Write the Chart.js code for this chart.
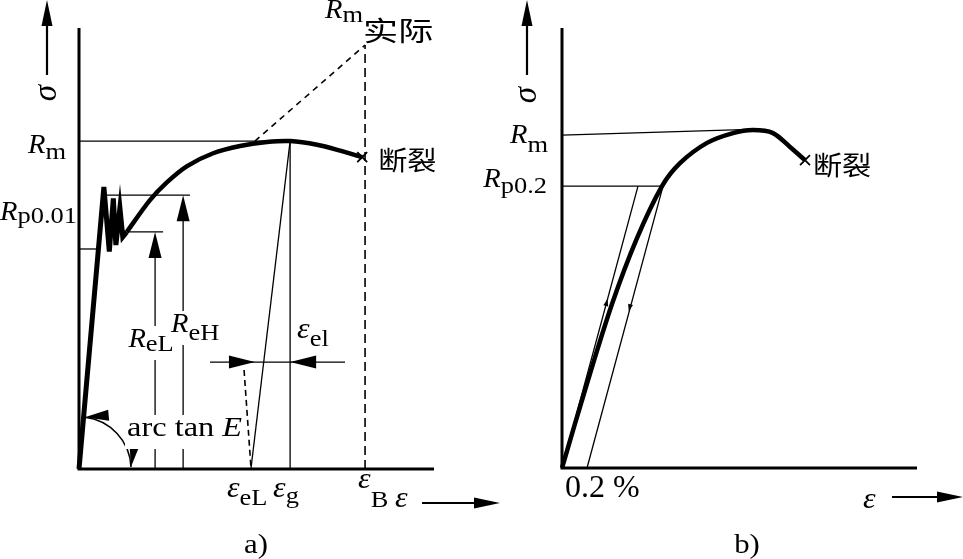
<!DOCTYPE html>
<html lang="zh-CN">
<head>
<meta charset="UTF-8">
<title>拉伸曲线示意图</title>
<script src="https://cdn.jsdelivr.net/npm/chart.js"></script>
<style>
  body { margin: 0; background: #fff; }
  #wrap { position: relative; width: 963px; height: 559px; }
  #wrap canvas { position: absolute; left: 0; top: 0; }
</style>
</head>
<body>
<div id="wrap">
  <canvas id="chartA" width="963" height="559"></canvas>
  <canvas id="chartB" width="963" height="559"></canvas>
</div>
<script>
// ---- a) 有屈服现象 (示意单位: Rm = 100, εB = 100) ----
const epsYieldA = [0, 8.7, 10.6, 12.0, 12.9, 14.3, 15.3, 16.7];
const sigYieldA = [0, 86.0, 66.3, 82.5, 68.3, 79.6, 70.8, 72.3];
const epsHardA  = [16.7, 24.8, 30.8, 37.8, 46.9, 56.3, 65.7, 73.8, 83.2, 91.3, 99.0];
const sigHardA  = [72.3, 82.0, 87.5, 92.4, 96.3, 98.5, 99.7, 100, 98.9, 97.1, 95.1];
const RmA = 100, ReH = 83.5, ReL = 72.3, Rp001 = 67.1, RmReal = 129.3;
const epsReHArrow = 36.4, epsReLArrow = 26.6;
const epsEL = 60.1, epsG = 73.8, epsB = 100;
const elLevel = 32.6;
const breakA = [99.0, 95.1];

// ---- b) 无明显屈服 (ε 单位 %, Rm = 100) ----
const epsCurveB = [0, 0.2, 0.4, 0.6, 0.8, 0.944, 1.16, 1.368, 1.528, 1.688, 1.824, 1.944];
const sigCurveB = [0, 25, 48.5, 68, 83.4, 90.2, 96.2, 99.1, 100, 99.1, 95.0, 91.1];
const offsetB = 0.2, Rp02 = 83.4, epsElastB = 0.608;
const RmLineB = [98.5, 100.3], RmLineEndB = 1.57;
const breakB = [1.944, 91.1];

const xMaxA = 124.1, yMaxA = 134.5;
const xMaxB = 2.84, yMaxB = 130.2;

const SERIF = '"Liberation Serif", "DejaVu Serif", serif';
const CJK = '"Noto Sans CJK SC", "Noto Sans CJK JP", sans-serif';

function pts(xs, ys) { return xs.map((v, i) => ({ x: v, y: ys[i] })); }
function seg(x1, y1, x2, y2, extra) {
  return Object.assign({ data: [{ x: x1, y: y1 }, { x: x2, y: y2 }], borderWidth: 1.3 }, extra || {});
}

function head(ctx, x, y, ang, len, half) {
  ctx.save();
  ctx.translate(x, y);
  ctx.rotate(ang);
  ctx.beginPath();
  ctx.moveTo(0, 0);
  ctx.lineTo(-len, -half);
  ctx.lineTo(-len, half);
  ctx.closePath();
  ctx.fill();
  ctx.restore();
}

function fontOf(p) {
  return (p.it ? 'italic ' : '') + p.size + 'px ' + (p.cjk ? CJK : SERIF);
}

function drawParts(ctx, x, y, parts, align, sx, bg) {
  const widths = parts.map(p => { ctx.font = fontOf(p); return ctx.measureText(p.t).width * (p.sx || sx); });
  const total = widths.reduce((a, b) => a + b, 0);
  let cx = align === 'right' ? x - total : align === 'center' ? x - total / 2 : x;
  if (bg) {
    ctx.fillStyle = '#fff';
    ctx.fillRect(cx - 2, y - 21, total + 4, 34);
  }
  ctx.fillStyle = '#000';
  ctx.textAlign = 'left';
  ctx.textBaseline = 'alphabetic';
  parts.forEach((p, i) => {
    ctx.save();
    ctx.font = fontOf(p);
    ctx.translate(cx, y + (p.dy || 0));
    ctx.scale(p.sx || sx, 1);
    ctx.fillText(p.t, 0, 0);
    ctx.restore();
    cx += widths[i];
  });
}

const sketchPlugin = {
  id: 'sketch',
  beforeDatasetsDraw(chart, args, o) {
    const { ctx, chartArea: ca } = chart;
    ctx.save();
    ctx.strokeStyle = '#000';
    ctx.lineWidth = 3;
    ctx.beginPath();
    ctx.moveTo(ca.left, ca.top);
    ctx.lineTo(ca.left, ca.bottom);
    ctx.lineTo(ca.right, ca.bottom);
    ctx.stroke();
    ctx.restore();
  },
  afterDatasetsDraw(chart, args, o) {
    const { ctx, chartArea: ca, scales: { x, y } } = chart;
    const P = (a) => [x.getPixelForValue(a[0]), y.getPixelForValue(a[1])];
    ctx.save();
    ctx.fillStyle = '#000';
    ctx.strokeStyle = '#000';

    // σ 轴箭头
    const sx0 = ca.left + o.sigma.dx;
    ctx.lineWidth = 2.2;
    ctx.beginPath();
    ctx.moveTo(sx0, ca.top + o.sigma.y0);
    ctx.lineTo(sx0, ca.top + o.sigma.y1 + 20);
    ctx.stroke();
    head(ctx, sx0, ca.top + o.sigma.y1, -Math.PI / 2, 26, 5.5);
    ctx.save();
    ctx.translate(sx0, ca.top + o.sigma.labelY);
    ctx.rotate(-Math.PI / 2);
    ctx.font = 'italic 33px ' + SERIF;
    ctx.textAlign = 'center';
    ctx.textBaseline = 'middle';
    ctx.fillText('σ', 0, 0);
    ctx.restore();

    // ε 轴箭头
    const ey = ca.bottom + o.eps.dy;
    ctx.beginPath();
    ctx.moveTo(ca.right + o.eps.x0, ey);
    ctx.lineTo(ca.right + o.eps.x1 - 20, ey);
    ctx.stroke();
    head(ctx, ca.right + o.eps.x1, ey, 0, 26, 5.5);

    // 数据箭头
    (o.heads || []).forEach(h => {
      const p = P(h.at);
      head(ctx, p[0], p[1], h.ang, h.len || 26, h.half || 6.5);
    });

    // arc tan E
    if (o.arc) {
      const c = P(o.arc.at);
      ctx.lineWidth = 1.5;
      ctx.beginPath();
      ctx.arc(c[0], c[1], o.arc.r, o.arc.a0, o.arc.a1);
      ctx.stroke();
      const t0 = [c[0] + o.arc.r * Math.cos(o.arc.a0), c[1] + o.arc.r * Math.sin(o.arc.a0)];
      const t1 = [c[0] + o.arc.r * Math.cos(o.arc.a1), c[1] + o.arc.r * Math.sin(o.arc.a1)];
      head(ctx, t0[0], t0[1], o.arc.a0 - Math.PI / 2 - 0.2, 24, 5.5);
      head(ctx, t1[0], t1[1], o.arc.a1 + Math.PI / 2 + 0.2, 24, 5.5);
    }

    // 文字
    (o.labels || []).forEach(l => {
      const p = P(l.at);
      drawParts(ctx, p[0] + l.dx, p[1] + l.dy, l.parts, l.align || 'left', l.sx || 1.1, l.bg);
    });
    ctx.restore();
  }
};
Chart.register(sketchPlugin);

function options(pad, xMax, yMax, sketch) {
  return {
    responsive: false,
    animation: false,
    events: [],
    layout: { padding: pad },
    scales: {
      x: { type: 'linear', min: 0, max: xMax, display: false },
      y: { type: 'linear', min: 0, max: yMax, display: false }
    },
    plugins: { legend: { display: false }, tooltip: { enabled: false }, sketch: sketch },
    elements: {
      point: { radius: 0 },
      line: { borderColor: '#000', borderWidth: 1.3, fill: false }
    },
    datasets: { scatter: { showLine: true, borderColor: '#000', clip: false } }
  };
}

const R = (sub, dy) => [{ t: 'R', it: true, size: 28, sx: 1.02 }, { t: sub, size: 23, dy: dy, sx: 1.15 }];
const E = (sub, dy) => [{ t: 'ε', it: true, size: 29, sx: 1.1 }, { t: sub, size: 23, dy: dy, sx: 1.15 }];

// ---------- 图 a ----------
new Chart(document.getElementById('chartA'), {
  type: 'scatter',
  data: {
    datasets: [
      { data: pts(epsYieldA, sigYieldA), borderWidth: 5, borderJoinStyle: 'miter' },
      { data: pts(epsHardA, sigHardA), borderWidth: 4.5, tension: 0.3 },
      seg(0, RmA, epsG, RmA),
      seg(9.1, ReH, 38.8, ReH),
      seg(16.7, ReL, 29.4, ReL),
      seg(0, Rp001, 6.8, Rp001),
      seg(epsReHArrow, 0, epsReHArrow, ReH - 4),
      seg(epsReLArrow, 0, epsReLArrow, ReL - 4),
      seg(epsG, RmA, epsEL, 0),
      seg(epsG, 0, epsG, RmA),
      seg(epsB, 0, epsB, RmReal, { borderDash: [9, 5], borderWidth: 1.6 }),
      seg(61.5, RmA, epsB, RmReal, { borderDash: [6, 5], borderWidth: 1.6 }),
      seg(57.7, 30.2, epsEL, 0.6, { borderDash: [6, 4], borderWidth: 1.6 }),
      seg(45.8, elLevel, 93, elLevel),
      { data: [{ x: breakA[0], y: breakA[1] }], showLine: false, pointStyle: 'crossRot',
        pointRadius: 7, pointBorderWidth: 1.8, pointBorderColor: '#000' }
    ]
  },
  options: options({ left: 79, top: 28, right: 529, bottom: 90 }, xMaxA, yMaxA, {
    sigma: { dx: -32, y0: 47, y1: -28, labelY: 65 },
    eps: { x0: -12, x1: 66, dy: 34 },
    heads: [
      { at: [epsReHArrow, ReH], ang: -Math.PI / 2 },
      { at: [epsReLArrow, ReL], ang: -Math.PI / 2 },
      { at: [61.5, elLevel], ang: 0 },
      { at: [epsG, elLevel], ang: Math.PI }
    ],
    arc: { at: [0, 0], r: 52, a0: -1.46, a1: -0.04 },
    labels: [
      { at: [0, RmA], dx: -13, dy: 12, align: 'right', parts: R('m', 6) },
      { at: [0, Rp001], dx: -2, dy: -29, align: 'right', parts: R('p0.01', 3) },
      { at: [epsReLArrow, 0], dx: -4, dy: -122, align: 'center', bg: true, parts: R('eL', 4) },
      { at: [epsReHArrow, 0], dx: 12, dy: -137, align: 'center', bg: true, parts: R('eH', 8) },
      { at: [0, 0], dx: 48, dy: -33, bg: true, sx: 1.2,
        parts: [{ t: 'arc tan ', size: 27 }, { t: 'E', it: true, size: 27 }] },
      { at: [epsG, elLevel], dx: 7, dy: -24, parts: E('el', 8) },
      { at: [epsEL, 0], dx: -24, dy: 28, parts: E('eL', 8) },
      { at: [epsG, 0], dx: -17, dy: 28, parts: E('g', 6) },
      { at: [epsB, 0], dx: -7, dy: 19, parts: E('B', 19) },
      { at: [xMaxA, 0], dx: -39, dy: 38, parts: [{ t: 'ε', it: true, size: 29 }] },
      { at: [epsB, RmReal], dx: -40, dy: -27,
        parts: R('m', 4).concat([{ t: '实际', cjk: true, size: 27, dy: 23, sx: 1.3 }]) },
      { at: breakA, dx: 16, dy: 13, parts: [{ t: '断裂', cjk: true, size: 26, sx: 1.12 }] },
      { at: [0, 0], dx: 177, dy: 84, align: 'center', parts: [{ t: 'a)', size: 28 }] }
    ]
  })
});

// ---------- 图 b ----------
new Chart(document.getElementById('chartB'), {
  type: 'scatter',
  data: {
    datasets: [
      { data: pts(epsCurveB, sigCurveB), borderWidth: 4.5, tension: 0.3 },
      seg(0, RmLineB[0], RmLineEndB, RmLineB[1]),
      seg(0, Rp02, offsetB + epsElastB, Rp02),
      seg(0, 0, epsElastB, Rp02),
      seg(offsetB, 0, offsetB + epsElastB, Rp02),
      { data: [{ x: breakB[0], y: breakB[1] }], showLine: false, pointStyle: 'crossRot',
        pointRadius: 7, pointBorderWidth: 1.8, pointBorderColor: '#000' }
    ]
  },
  options: options({ left: 562, top: 28, right: 46, bottom: 91 }, xMaxB, yMaxB, {
    sigma: { dx: -35, y0: 47, y1: -28, labelY: 67 },
    eps: { x0: -25, x1: 46, dy: 29 },
    heads: [
      { at: [0.3645, 50], ang: -1.308, len: 7, half: 2.5 },
      { at: [0.534, 46.4], ang: 1.833, len: 7, half: 2.5 }
    ],
    labels: [
      { at: [0, RmLineB[0]], dx: -14, dy: 8, align: 'right', parts: R('m', 9) },
      { at: [0, Rp02], dx: -15, dy: 1, align: 'right', parts: R('p0.2', 6) },
      { at: [offsetB, 0], dx: -22, dy: 29, sx: 1.0, parts: [{ t: '0.2 %', size: 32 }] },
      { at: [xMaxB, 0], dx: -54, dy: 40, parts: [{ t: 'ε', it: true, size: 29 }] },
      { at: breakB, dx: 8, dy: 15, parts: [{ t: '断裂', cjk: true, size: 26, sx: 1.12 }] },
      { at: [0, 0], dx: 185, dy: 85, align: 'center', parts: [{ t: 'b)', size: 28 }] }
    ]
  })
});
</script>
</body>
</html>
